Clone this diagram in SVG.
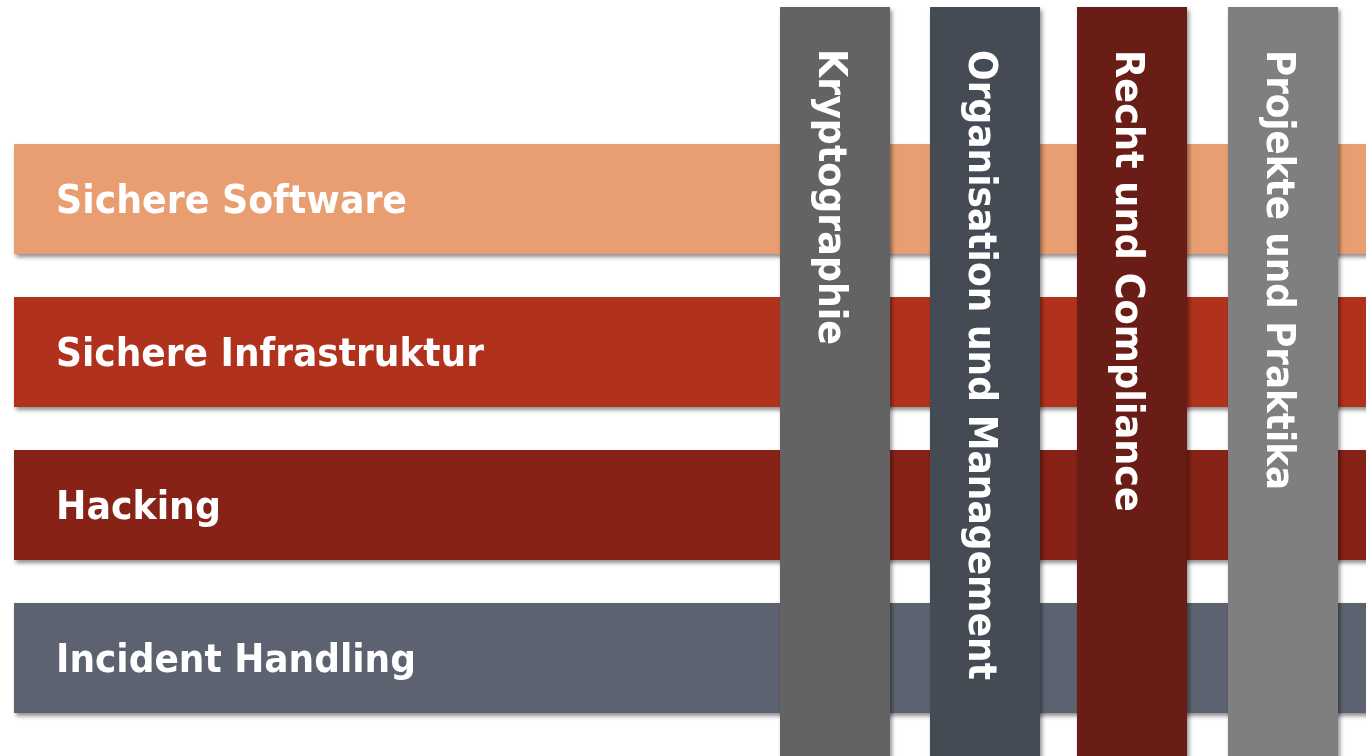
<svg xmlns="http://www.w3.org/2000/svg" width="1366" height="756" viewBox="0 0 1366 756">
<defs>
<filter id="sh" x="-5%" y="-10%" width="115%" height="130%">
<feGaussianBlur in="SourceAlpha" stdDeviation="2"/>
<feOffset dx="2" dy="3" result="b"/>
<feComponentTransfer><feFuncA type="linear" slope="0.45"/></feComponentTransfer>
<feMerge><feMergeNode/><feMergeNode in="SourceGraphic"/></feMerge>
</filter>
<style>
.lbl{font-family:"DejaVu Sans","Liberation Sans",sans-serif;font-weight:bold;font-size:39px;fill:#ffffff}
</style>
</defs>
<rect width="1366" height="756" fill="#ffffff"/>
<g id="row-software" filter="url(#sh)">
<rect x="14" y="144" width="1360" height="110" fill="#E89E71"/>
<text class="lbl" x="56" y="213" textLength="351" lengthAdjust="spacingAndGlyphs">Sichere Software</text>
</g>
<g id="row-infra" filter="url(#sh)">
<rect x="14" y="297" width="1360" height="110" fill="#B0301E"/>
<text class="lbl" x="56" y="366" textLength="428" lengthAdjust="spacingAndGlyphs">Sichere Infrastruktur</text>
</g>
<g id="row-hacking" filter="url(#sh)">
<rect x="14" y="450" width="1360" height="110" fill="#862417"/>
<text class="lbl" x="56" y="519" textLength="165" lengthAdjust="spacingAndGlyphs">Hacking</text>
</g>
<g id="row-incident" filter="url(#sh)">
<rect x="14" y="603" width="1360" height="110" fill="#5B6270"/>
<text class="lbl" x="56" y="672" textLength="360" lengthAdjust="spacingAndGlyphs">Incident Handling</text>
</g>
<g id="col-krypto" filter="url(#sh)">
<rect x="780" y="7" width="110" height="760" fill="#636363"/>
<text class="lbl" transform="translate(819,49) rotate(90)" textLength="296" lengthAdjust="spacingAndGlyphs">Kryptographie</text>
</g>
<g id="col-org" filter="url(#sh)">
<rect x="930" y="7" width="110" height="760" fill="#444B55"/>
<text class="lbl" transform="translate(969,50) rotate(90)" textLength="630" lengthAdjust="spacingAndGlyphs">Organisation und Management</text>
</g>
<g id="col-recht" filter="url(#sh)">
<rect x="1077" y="7" width="110" height="760" fill="#6A1E14"/>
<text class="lbl" transform="translate(1116,50) rotate(90)" textLength="462" lengthAdjust="spacingAndGlyphs">Recht und Compliance</text>
</g>
<g id="col-projekte" filter="url(#sh)">
<rect x="1228" y="7" width="110" height="760" fill="#7F7F7F"/>
<text class="lbl" transform="translate(1267,50) rotate(90)" textLength="440" lengthAdjust="spacingAndGlyphs">Projekte und Praktika</text>
</g>
</svg>
